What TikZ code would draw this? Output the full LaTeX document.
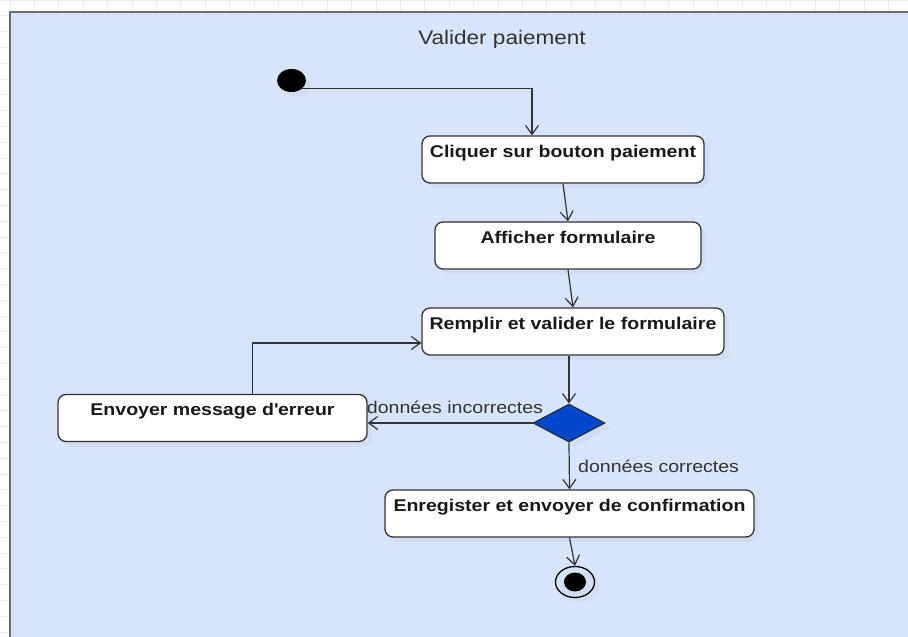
\documentclass[tikz,border=0pt]{standalone}
\usepackage{fontspec}
\setmainfont{Liberation Sans}[FakeStretch=1.15]
\usetikzlibrary{arrows.meta,shapes.geometric,shadows}
\definecolor{swimbg}{HTML}{D7E5FC}
\definecolor{framegray}{HTML}{6E6E6E}
\definecolor{inkgray}{HTML}{333333}
\definecolor{decblue}{HTML}{0047CC}
\begin{document}
\begin{tikzpicture}[x=1pt, y=-1pt,
    softshadow/.style={drop shadow={shadow xshift=5pt, shadow yshift=-5pt, opacity=0.08}},
    act/.style={draw=inkgray, line width=1.3pt, fill=white, rounded corners=8pt,
        minimum height=47pt, text height=17pt, text depth=22pt, inner ysep=4pt, inner xsep=2pt,
        font=\fontsize{17}{20}\selectfont\bfseries, text=black!90, softshadow},
    flow/.style={draw=inkgray, line width=1.2pt, -{Straight Barb[length=9pt, width=13pt]}},
    lbl/.style={font=\fontsize{17}{20}\selectfont, text=inkgray}]
    \clip (0,0) rectangle (908,637);
    \draw[black!7, line width=0.8pt, xshift=10pt, xstep=24.4pt, ystep=15.8pt] (-10,0) grid (908,637);
    \draw[framegray, line width=2.5pt, fill=swimbg] (10,12) rectangle (930,660);

    \node (title) at (502,39) [lbl, font=\fontsize{19.6}{22}\selectfont] {Valider paiement};

    \node (init) at (291.5,80.5) [ellipse, fill=black, minimum width=29pt, minimum height=23pt, inner sep=0pt, softshadow] {};

    \node (c1) at (563,159.5) [act, minimum width=282pt] {Cliquer sur bouton paiement};
    \node (c2) at (568,245.5) [act, minimum width=266pt] {Afficher formulaire};
    \node (c3) at (573,331.5) [act, minimum width=302pt] {Remplir et valider le formulaire};
    \node (dec) at (569,423) [diamond, draw=black!85, line width=1pt, fill=decblue, minimum width=72pt, minimum height=38pt, inner sep=0pt, softshadow] {};
    \node (c4) at (212.5,418) [act, minimum width=309pt] {Envoyer message d\textquotesingle erreur};
    \node (c5) at (569.5,513.5) [act, minimum width=369pt] {Enregister et envoyer de confirmation};

    \node (fin) at (575,582) [ellipse, draw=black, line width=1.3pt, minimum width=39pt, minimum height=31pt, inner sep=0pt, softshadow] {};
    \node (findot) at (fin) [ellipse, fill=black, minimum width=22pt, minimum height=19pt, inner sep=0pt] {};

    \draw[flow] (init.south east) -| ([xshift=-31pt]c1.north);
    \draw[flow] (c1.south) -- (c2.north);
    \draw[flow] (c2.south) -- (c3.north);
    \draw[flow] (dec.north |- c3.south) -- (dec.north);
    \draw[flow] (dec.west) -- node[lbl, above=5pt, pos=0.47] (nok) {données incorrectes} (dec.west -| c4.east);
    \draw[flow] ([xshift=40pt]c4.north) |- ([yshift=-11.5pt]c3.west);
    \draw[flow] (dec.south) -- node[lbl, right=5pt] (ok) {données correctes} (c5.north);
    \draw[flow] (c5.south) -- (fin.north);
\end{tikzpicture}
\end{document}
